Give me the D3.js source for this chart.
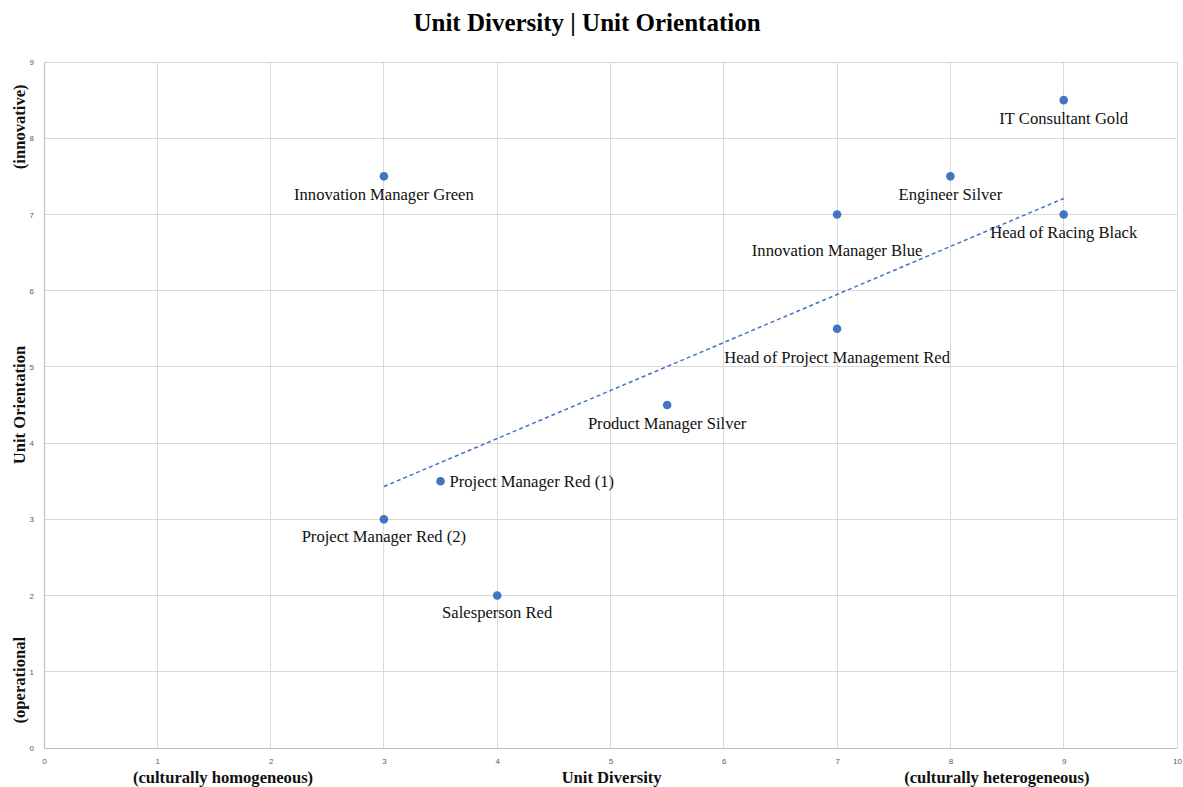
<!DOCTYPE html>
<html>
<head>
<meta charset="utf-8">
<script src="https://cdn.jsdelivr.net/npm/d3@7/dist/d3.min.js"></script>
<style>
  html, body { margin: 0; padding: 0; background: #ffffff; }
  svg { display: block; }
</style>
</head>
<body>
<svg id="chart" width="1183" height="787"></svg>
<script>
// Role positions on the two unit dimensions
const roles = [
  "Innovation Manager Green",
  "IT Consultant Gold",
  "Engineer Silver",
  "Innovation Manager Blue",
  "Head of Racing Black",
  "Head of Project Management Red",
  "Product Manager Silver",
  "Project Manager Red (1)",
  "Project Manager Red (2)",
  "Salesperson Red"
];
const diversity   = [3, 9, 8, 7, 9, 7, 5.5, 3.5, 3, 4];
const orientation = [7.5, 8.5, 7.5, 7, 7, 5.5, 4.5, 3.5, 3, 2];

// Linear trend line end points (diversity, orientation)
const trendX = [3, 9];
const trendY = [3.43, 7.21];

// Axis ticks
const xTicks = [0, 1, 2, 3, 4, 5, 6, 7, 8, 9, 10];
const yTicks = [0, 1, 2, 3, 4, 5, 6, 7, 8, 9];

// Label placement relative to each point: [dx, dy, anchor]
const labelPlacement = {
  "Innovation Manager Green": [0, 18, "middle"],
  "IT Consultant Gold": [0, 18, "middle"],
  "Engineer Silver": [0, 18, "middle"],
  "Innovation Manager Blue": [0, 36, "middle"],
  "Head of Racing Black": [0, 18, "middle"],
  "Head of Project Management Red": [0, 29, "middle"],
  "Product Manager Silver": [0, 18, "middle"],
  "Project Manager Red (1)": [9, 0, "start"],
  "Project Manager Red (2)": [0, 17, "middle"],
  "Salesperson Red": [0, 17, "middle"]
};

const W = 1183, H = 787;
const margin = { left: 44, right: 6, top: 62, bottom: 39 };
const svg = d3.select("#chart");

const x = d3.scaleLinear().domain([0, 10]).range([margin.left, W - margin.right]);
const y = d3.scaleLinear().domain([0, 9]).range([H - margin.bottom, margin.top]);

const serif = "'Liberation Serif', 'Times New Roman', serif";
const sans = "'Liberation Sans', Arial, sans-serif";
const blue = "#4472C4";

// Gridlines
const grid = svg.append("g");
grid.selectAll("line.gx").data(xTicks).join("line")
  .attr("x1", d => x(d)).attr("x2", d => x(d))
  .attr("y1", y(0)).attr("y2", y(9))
  .attr("stroke", "#d9d9d9").attr("stroke-width", 1)
  .attr("shape-rendering", "crispEdges");
grid.selectAll("line.gy").data(yTicks).join("line")
  .attr("x1", x(0)).attr("x2", x(10))
  .attr("y1", d => y(d)).attr("y2", d => y(d))
  .attr("stroke", "#d9d9d9").attr("stroke-width", 1)
  .attr("shape-rendering", "crispEdges");

// Axes
const xAxis = svg.append("g")
  .attr("transform", `translate(0,${y(0)})`)
  .call(d3.axisBottom(x).tickValues(xTicks).tickSize(0).tickPadding(10).tickFormat(d3.format("d")));
const yAxis = svg.append("g")
  .attr("transform", `translate(${x(0)},0)`)
  .call(d3.axisLeft(y).tickValues(yTicks).tickSize(0).tickPadding(10).tickFormat(d3.format("d")));
[xAxis, yAxis].forEach(a => {
  a.select(".domain").attr("stroke", "#bfbfbf").attr("stroke-width", 1.2);
  a.selectAll("text").attr("font-family", sans).attr("font-size", 8).attr("fill", "#595959");
});

// Trend line
svg.append("line")
  .attr("x1", x(trendX[0])).attr("y1", y(trendY[0]))
  .attr("x2", x(trendX[1])).attr("y2", y(trendY[1]))
  .attr("stroke", blue).attr("stroke-width", 1.5)
  .attr("stroke-dasharray", "4,3");

// Points
const pts = roles.map((r, i) => ({ name: r, x: diversity[i], y: orientation[i] }));
svg.append("g").selectAll("circle").data(pts).join("circle")
  .attr("cx", d => x(d.x)).attr("cy", d => y(d.y))
  .attr("r", 4.3).attr("fill", blue);

// Data labels
svg.append("g").selectAll("text").data(pts).join("text")
  .attr("x", d => x(d.x) + labelPlacement[d.name][0])
  .attr("y", d => y(d.y) + labelPlacement[d.name][1])
  .attr("text-anchor", d => labelPlacement[d.name][2])
  .attr("dominant-baseline", "central")
  .attr("font-family", serif).attr("font-size", 16.6).attr("fill", "#111")
  .text(d => d.name);

// Title
svg.append("text")
  .attr("x", 587).attr("y", 31)
  .attr("text-anchor", "middle")
  .attr("font-family", serif).attr("font-weight", "bold").attr("font-size", 25)
  .attr("fill", "#000")
  .text("Unit Diversity | Unit Orientation");

// X axis titles
const xTitles = [
  { t: "(culturally homogeneous)", v: 1.58 },
  { t: "Unit Diversity", v: 5.01 },
  { t: "(culturally heterogeneous)", v: 8.41 }
];
svg.append("g").selectAll("text").data(xTitles).join("text")
  .attr("x", d => x(d.v)).attr("y", 783)
  .attr("text-anchor", "middle")
  .attr("font-family", serif).attr("font-weight", "bold").attr("font-size", 16.6)
  .attr("fill", "#111")
  .text(d => d.t);

// Y axis titles
const yTitles = [
  { t: "(operational", v: 0.89 },
  { t: "Unit Orientation", v: 4.5 },
  { t: "(innovative)", v: 8.15 }
];
svg.append("g").selectAll("text").data(yTitles).join("text")
  .attr("transform", d => `translate(25,${y(d.v)}) rotate(-90)`)
  .attr("text-anchor", "middle")
  .attr("font-family", serif).attr("font-weight", "bold").attr("font-size", 16.6)
  .attr("fill", "#111")
  .text(d => d.t);
</script>
</body>
</html>
